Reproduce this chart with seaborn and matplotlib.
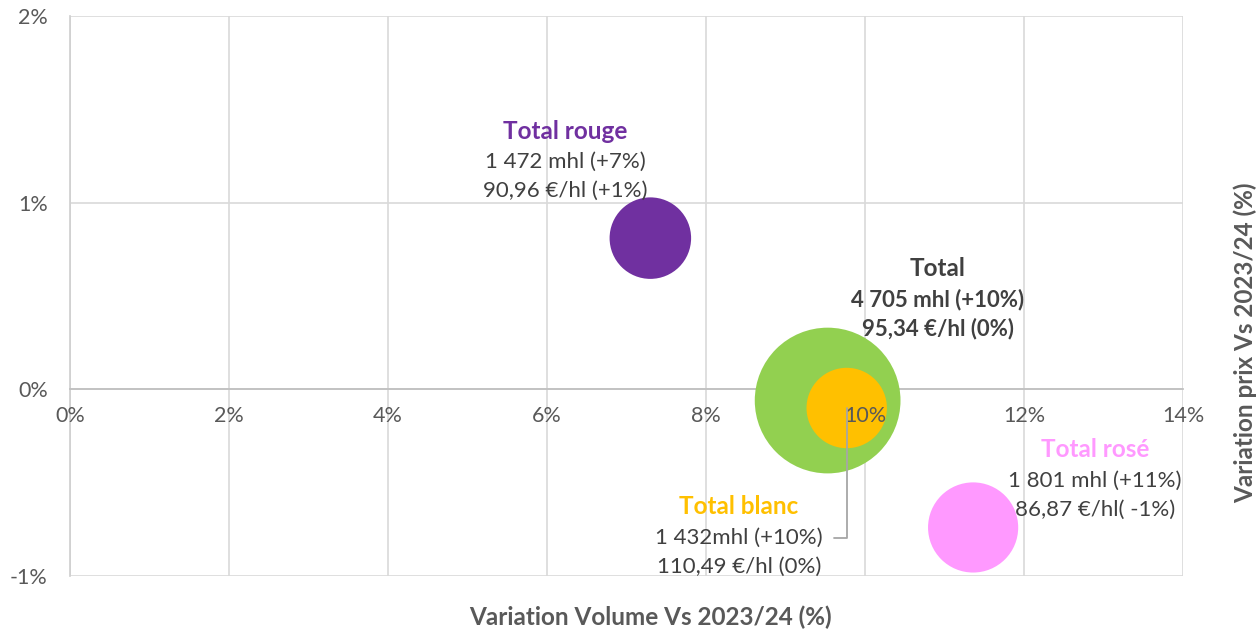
import matplotlib.pyplot as plt
import seaborn as sns
import pandas as pd
from matplotlib.ticker import PercentFormatter

# Chart values
names = ["Total", "Total blanc", "Total rouge", "Total rosé"]
volume_change = [0.0953, 0.0977, 0.0730, 0.1136]
price_change = [-0.0006, -0.0010, 0.0081, -0.0074]
volumes_mhl = [4705, 1432, 1472, 1801]
detail_lines = [
    ["4 705 mhl (+10%)", "95,34 €/hl (0%)"],
    ["1 432mhl (+10%)", "110,49 €/hl (0%)"],
    ["1 472 mhl (+7%)", "90,96 €/hl (+1%)"],
    ["1 801 mhl (+11%)", "86,87 €/hl( -1%)"],
]
x_ticks = [0, 0.02, 0.04, 0.06, 0.08, 0.10, 0.12, 0.14]
y_ticks = [-0.01, 0, 0.01, 0.02]

colors = {"Total": "#92D050", "Total blanc": "#FFC000",
          "Total rouge": "#7030A0", "Total rosé": "#FF99FF"}
# label offsets (pixels) from the bubble centre: title position, then line step
label_offsets = {"Total": (110, 132), "Total blanc": (-108, -99),
                 "Total rouge": (-85, 107), "Total rosé": (122, 78)}
LINE_STEP = 29
TEXT = "#404040"
AXIS_TEXT = "#595959"
GRID = "#D9D9D9"

sns.set_theme(style="white")
plt.rcParams["font.family"] = ["Lato", "DejaVu Sans"]
plt.rcParams["axes.unicode_minus"] = False

df = pd.DataFrame({"name": names, "vol": volume_change, "price": price_change,
                   "mhl": volumes_mhl})
size_map = {n: v * 2.34 for n, v in zip(names, volumes_mhl)}

fig = plt.figure(figsize=(12.6, 6.29), dpi=100)
ax = fig.add_axes([70 / 1260, 1 - 576 / 629, 1113 / 1260, 560 / 629])

# gridlines under the bubbles, tick labels on top of them
for xv in x_ticks:
    ax.axvline(xv, color=GRID, linewidth=1.2, zorder=0)
for yv in y_ticks:
    ax.axhline(yv, color=GRID, linewidth=1.2, zorder=0)

sns.scatterplot(data=df, x="vol", y="price", hue="name", palette=colors,
                size="name", sizes=size_map, linewidth=0, alpha=1,
                legend=False, ax=ax, zorder=2)

ax.set_xlim(0, 0.14)
ax.set_ylim(-0.01, 0.02)
ax.set_xticks(x_ticks)
ax.set_yticks(y_ticks)
ax.xaxis.set_major_formatter(PercentFormatter(1, decimals=0))
ax.yaxis.set_major_formatter(PercentFormatter(1, decimals=0))
ax.grid(False)
ax.set_axisbelow(False)
for side in ["top", "right"]:
    ax.spines[side].set_visible(False)
ax.spines["bottom"].set_position(("data", 0))
ax.spines["bottom"].set_color("#BFBFBF")
ax.spines["left"].set_color("#D0D0D0")
ax.spines["bottom"].set_zorder(0.5)
ax.spines["left"].set_zorder(0.5)
ax.tick_params(axis="x", length=0, pad=12, labelsize=15.5, labelcolor=AXIS_TEXT)
ax.tick_params(axis="y", length=0, pad=16, labelsize=15.5, labelcolor=AXIS_TEXT)
ax.set_xlabel("")
ax.set_ylabel("")

for name, x, y, lines in zip(names, volume_change, price_change, detail_lines):
    dx, dy = label_offsets[name]
    bold = name == "Total"
    title_color = TEXT if bold else colors[name]
    ax.annotate(name, xy=(x, y), xytext=(dx, dy), textcoords="offset pixels",
                ha="center", va="center", fontsize=17.5, fontweight="bold",
                color=title_color, zorder=4)
    for i, line in enumerate(lines):
        kw = {}
        if name == "Total blanc" and i == 0:
            kw["arrowprops"] = dict(arrowstyle="-", color="#A6A6A6", lw=1.3,
                                    connectionstyle="angle,angleA=0,angleB=90,rad=0",
                                    relpos=(1, 0.5), shrinkA=6, shrinkB=0)
        ax.annotate(line, xy=(x, y), xytext=(dx, dy - LINE_STEP * (i + 1) - 2),
                    textcoords="offset pixels", ha="center", va="center",
                    fontsize=16, fontweight="bold" if bold else "normal",
                    color=TEXT, zorder=4, **kw)

fig.text(650 / 1260, 1 - 617 / 629, "Variation Volume Vs 2023/24 (%)",
         ha="center", va="center", fontsize=17.5, fontweight="bold", color=AXIS_TEXT)
fig.text(1245 / 1260, 1 - 343 / 629, "Variation prix Vs 2023/24 (%)",
         ha="center", va="center", rotation=90, fontsize=17.5,
         fontweight="bold", color=AXIS_TEXT)

fig.savefig("out.png", dpi=100)
